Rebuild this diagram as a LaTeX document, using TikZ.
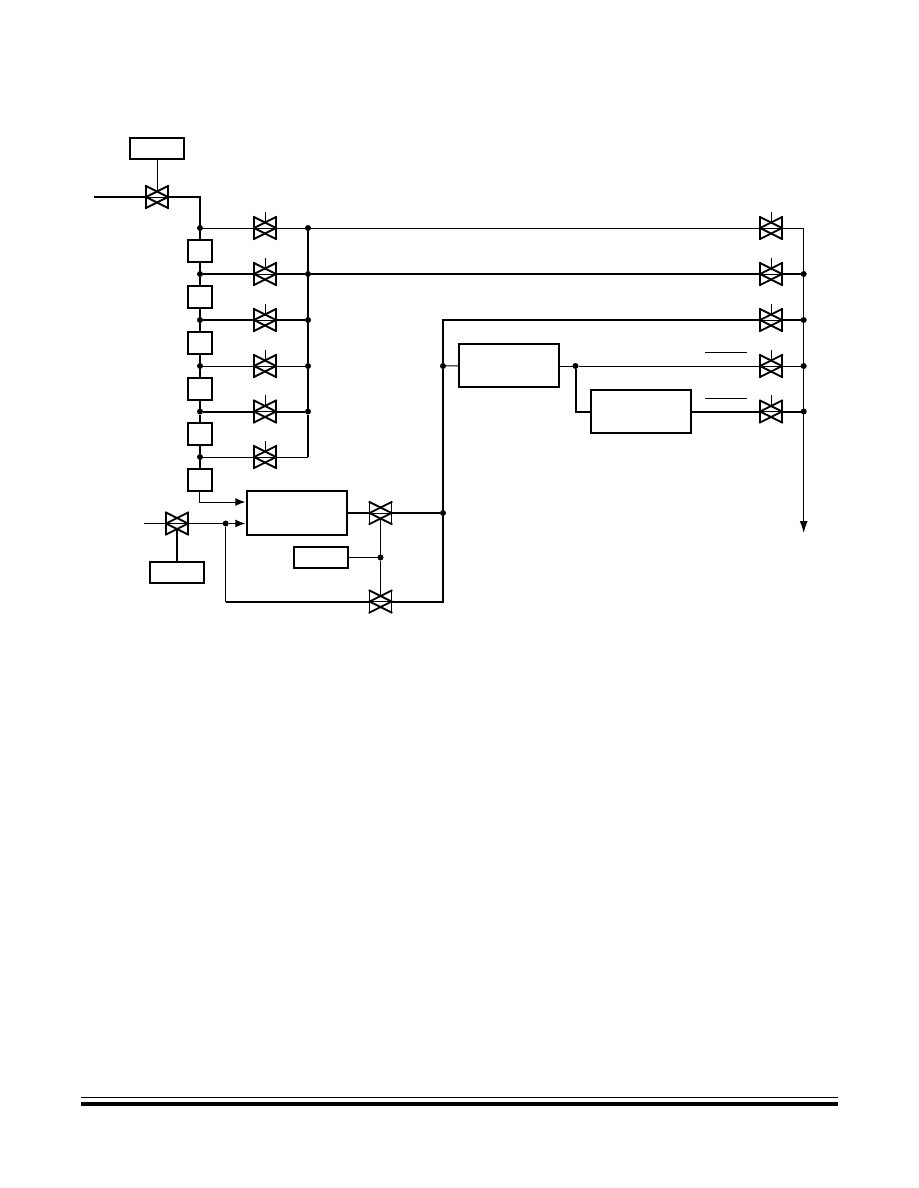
\documentclass[tikz,border=0pt]{standalone}
\usepackage{tikz}
\usetikzlibrary{arrows.meta}

\tikzset{
    wire/.style={line width=1pt},
    bus/.style={line width=2pt},
    block/.style={draw, line width=2pt, inner sep=0pt, outer sep=0pt, minimum width=#1},
    block/.default=100.5pt,
    dot/.style={circle, fill=black, inner sep=0pt, outer sep=0pt, minimum size=6pt},
    valveline/.style={line width=1.8pt, line cap=rect},
    valve/.style={inner sep=0pt, outer sep=0pt, minimum size=22pt,
        append after command={
            (\tikzlastnode.north west) edge[valveline] (\tikzlastnode.south west)
            (\tikzlastnode.north east) edge[valveline] (\tikzlastnode.south east)
            (\tikzlastnode.north west) edge[valveline] (\tikzlastnode.east)
            (\tikzlastnode.north east) edge[valveline] (\tikzlastnode.west)
            (\tikzlastnode.west) edge[valveline] (\tikzlastnode.south east)
            (\tikzlastnode.east) edge[valveline] (\tikzlastnode.south west)
            (\tikzlastnode.west) edge[wire] (\tikzlastnode.east)
        }},
    feed/.style={-{Latex[length=10pt,width=8pt]}, wire},
}

\begin{document}
\begin{tikzpicture}[x=1pt, y=-1pt]
    \useasboundingbox (0,0) rectangle (918,1188);

    % inlet and stages
    \coordinate (in) at (94,197);
    \coordinate (turn) at (200,197);
    \node[block=54pt, minimum height=21pt] (top) at (157,148.5) {};
    \node[valve] (v0) at (157,197) {};
    \draw[wire] (top) -- ([yshift=5.5pt]v0.center);
    \draw[bus] (in) -- (v0) -- (turn) -- (200,228);

    \foreach \i/\yy/\by/\w in {1/228/251/wire, 2/274/297/bus, 3/320/343/bus,
                               4/366/389/wire, 5/411.5/434/bus, 6/457/480/wire} {
        \node[dot]   (j\i) at (200,\yy) {};
        \node[block=24pt, minimum height=22pt] (b\i) at (200,\by) {};
        \node[valve] (v\i) at (265,\yy) {};
        \draw[bus] (j\i) -- (b\i);
        \draw[\w] (j\i) -- (v\i);
        \draw[wire] ([yshift=5.5pt]v\i.center) -- ++(0,-11);
    }
    \foreach \a/\b in {b1/j2, b2/j3, b3/j4, b4/j5, b5/j6}
        \draw[bus] (\a) -- (\b);

    % collector
    \foreach \i/\yy in {1/228, 2/274, 4/366, 5/411.5}
        \node[dot] (p\i) at (308,\yy) {};
    \node[dot] (p3) at (308,320) {};
    \coordinate (p6) at (308,457);
    \draw[bus] (p1) -- (p2) -- (p3) -- (p4) -- (p5) -- (p6);
    \draw[wire] (v1) -- (p1);
    \draw[bus] (v2) -- (p2);
    \draw[bus] (v3) -- (p3);
    \draw[wire] (v4) -- (p4);
    \draw[bus] (v5) -- (p5);
    \draw[wire] (v6) -- (p6);

    % outlet valves
    \foreach \i/\yy in {1/228, 2/274, 3/320, 4/366, 5/411.5} {
        \node[valve] (r\i) at (771,\yy) {};
        \draw[wire] ([yshift=5.5pt]r\i.center) -- ++(0,-11);
    }
    \coordinate (q1) at (803.7,228);
    \foreach \i/\yy in {2/274, 3/320, 4/366, 5/411.5}
        \node[dot] (q\i) at (803.7,\yy) {};
    \coordinate (out) at (803.7,533);
    \draw[-{Latex[length=12pt,width=8pt]}, wire] (q1) -- (out);
    \draw[wire] (p1) -- (r1) -- (q1);
    \draw[bus] (p2) -- (r2) -- (q2);
    \draw[bus] (r3) -- (q3);
    \draw[wire] (r4) -- (q4);
    \draw[bus] (r5) -- (q5);

    % reactor and bypass
    \node[block, minimum height=44pt] (reac) at (297,513) {};
    \node[block=54pt, minimum height=21pt] (ctrl) at (321,557.5) {};
    \node[valve] (v7) at (380.5,513) {};
    \node[valve] (v8) at (380.5,601.5) {};
    \node[dot]   (k1) at (380.5,557.5) {};
    \node[dot]   (k2) at (443,513) {};
    \node[dot]   (k3) at (443,366) {};
    \coordinate (k4) at (443,320);
    \coordinate (k5) at (443,601.5);
    \coordinate (k6) at (225.7,601.5);
    \draw[wire] ([yshift=-5.5pt]v7.center) -- (k1) -- ([yshift=5.5pt]v8.center);
    \draw[wire] (ctrl) -- (k1);
    \draw[bus] (reac) -- (v7) -- (k2);
    \draw[bus] (r3) -- (k4) -- (k3) -- (k2) -- (k5) -- (v8) -- (k6);

    % second feed
    \coordinate (in2) at (144,523.5);
    \node[valve] (v9) at (177,523.5) {};
    \node[dot]   (j7) at (225.7,523.5) {};
    \node[block=54pt, minimum height=21pt] (aux) at (177,572.5) {};
    \draw[wire] (in2) -- (v9) -- (j7);
    \draw[wire] (j7) -- (k6);
    \draw[bus] ([yshift=-5.5pt]v9.center) -- (aux);
    \draw[feed, shorten >=1.5pt] (j7) -- ([yshift=-10.5pt]reac.west);
    \draw[feed, shorten >=1.5pt] ([xshift=-1pt]b6.south) |- ([yshift=11pt]reac.west);

    % side units
    \node[block, minimum height=43pt] (unita) at (509,365.5) {};
    \node[block, minimum height=43pt] (unitb) at (641,411.5) {};
    \node[dot] (m1) at (575.5,366) {};
    \coordinate (m2) at (575.5,411.5);
    \draw[wire] (k3) -- (unita);
    \draw[wire] (unita.east |- m1) -- (m1) -- (r4);
    \draw[bus] (m1) -- (m2) -- (unitb);
    \draw[bus] (unitb) -- (r5);

    % overbars
    \coordinate (o1) at (705,352);
    \coordinate (o2) at (747,352);
    \coordinate (o3) at (705,398);
    \coordinate (o4) at (747,398);
    \draw[wire] (o1) -- (o2);
    \draw[wire] (o3) -- (o4);

    % page rules
    \coordinate (f1) at (81,1097.5);
    \coordinate (f2) at (838,1097.5);
    \coordinate (f3) at (81,1104);
    \coordinate (f4) at (838,1104);
    \draw[wire] (f1) -- (f2);
    \draw[line width=3.5pt] (f3) -- (f4);
\end{tikzpicture}
\end{document}
